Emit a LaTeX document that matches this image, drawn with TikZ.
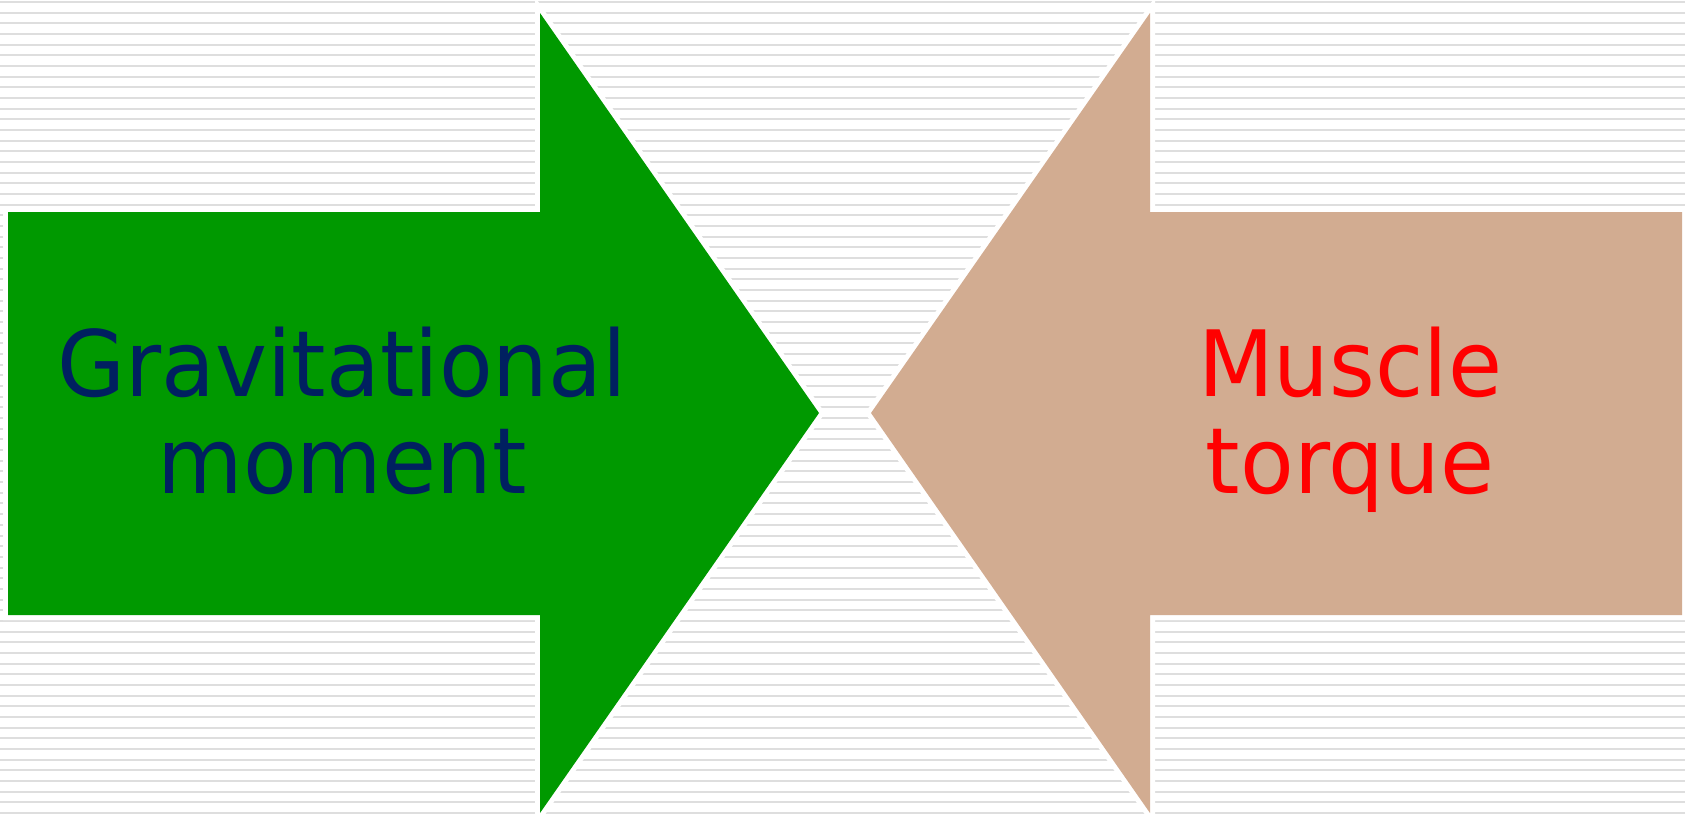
\documentclass[tikz,border=0pt]{standalone}
\usepackage{fontspec}
\newfontfamily\labelfont[FakeStretch=0.96]{DejaVu Sans}
\definecolor{arrowgreen}{RGB}{0,153,0}
\definecolor{arrowtan}{RGB}{210,172,145}
\definecolor{labelnavy}{RGB}{0,32,96}
\definecolor{stripegray}{RGB}{222,222,222}
\begin{document}
\begin{tikzpicture}[x=1pt,y=-1pt,
  stripe/.style={draw=stripegray, line width=2pt},
  blockarrow/.style={preaction={draw=white, line width=10pt, line join=miter, miter limit=10}},
  labeltext/.style={inner sep=0pt, anchor=base,
    font=\labelfont\fontsize{91.5}{96.5}\selectfont}]
% page and striped background
\fill[white] (0,0) rectangle (1685,822);
\useasboundingbox (0,0) rectangle (1685,822);
\foreach \k in {0,...,76}
  \draw[stripe] (0,{2+10.67*\k}) -- (1685,{2+10.67*\k});

% right-pointing arrow: gravitational moment
\path[blockarrow, fill=arrowgreen]
  (8,212) -- (540,212) -- (540,13) -- (819,413) -- (540,813)
  -- (540,615) -- (8,615) -- cycle;

% left-pointing arrow: muscle torque
\path[blockarrow, fill=arrowtan]
  (1682,212) -- (1150,212) -- (1150,13) -- (871,413) -- (1150,813)
  -- (1150,615) -- (1682,615) -- cycle;

% labels
\node[labeltext, text=labelnavy] (grav) at (342,396.7)
  {\begin{tabular}[t]{@{}c@{}}Gravitational\\moment\end{tabular}};
\node[labeltext, text=red] (muscle) at (1350,396.7)
  {\begin{tabular}[t]{@{}c@{}}Muscle\\torque\end{tabular}};
\end{tikzpicture}
\end{document}
